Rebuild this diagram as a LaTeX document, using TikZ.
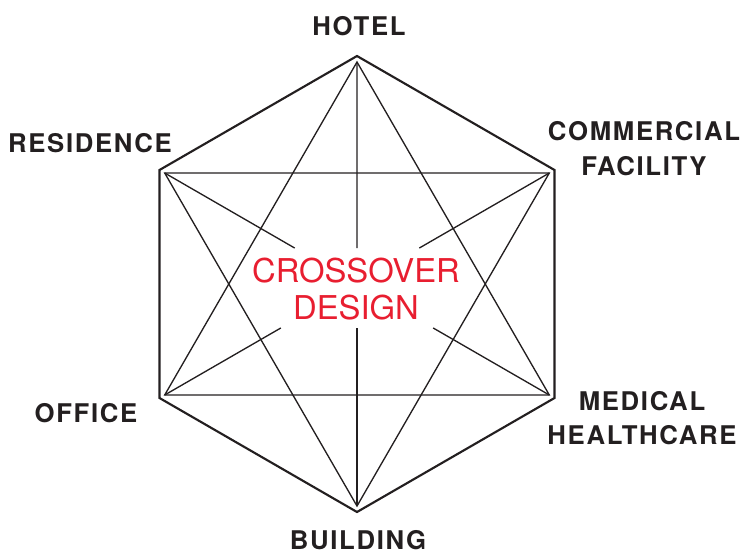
\documentclass[tikz,border=0pt]{standalone}
\usepackage{fontspec}
\setmainfont{TeX Gyre Heros}
\newfontfamily\lblfont[LetterSpace=6.5]{TeX Gyre Heros}
\usetikzlibrary{calc}
\definecolor{ink}{RGB}{35,31,32}
\definecolor{xred}{RGB}{232,30,48}
\begin{document}
\begin{tikzpicture}[x=0.75pt,y=-0.75pt,
  hexline/.style={draw=ink,line width=1.6pt,line join=miter},
  innerline/.style={draw=ink,line width=1pt},
  lbl/.style={text=ink,font=\lblfont\bfseries\fontsize{19.3}{26}\selectfont,align=center,inner sep=0pt},
  core/.style={text=xred,font=\fontsize{24.6}{27.75}\selectfont,align=center,inner sep=0pt}]
\useasboundingbox (0,0) rectangle (745,554);
% outer hexagon
\coordinate (oT) at (357,56);
\coordinate (oUR) at (554.5,170);
\coordinate (oLR) at (554.5,398);
\coordinate (oB) at (357,512);
\coordinate (oLL) at (159.5,398);
\coordinate (oUL) at (159.5,170);
% inner convergence points
\coordinate (C) at (357,284);
\coordinate (iT) at (357,62);
\coordinate (iUR) at (549.3,173);
\coordinate (iLR) at (549.3,395);
\coordinate (iB) at (357,506);
\coordinate (iLL) at (164.7,395);
\coordinate (iUL) at (164.7,173);
\draw[hexline] (oT) -- (oUR) -- (oLR) -- (oB) -- (oLL) -- (oUL) -- cycle;
% triangles
\draw[innerline] (iT) -- (iLR) -- (iLL) -- cycle;
\draw[innerline] (iB) -- (iUL) -- (iUR) -- cycle;
% interrupted diagonals
\draw[innerline] (iT) -- ($(iT)!0.838!(C)$);
\draw[innerline] (iB) -- ($(iB)!0.802!(C)$);
\draw[innerline] (iUL) -- ($(iUL)!0.676!(C)$);
\draw[innerline] (iUR) -- ($(iUR)!0.676!(C)$);
\draw[innerline] (iLL) -- ($(iLL)!0.604!(C)$);
\draw[innerline] (iLR) -- ($(iLR)!0.604!(C)$);
% labels
\node[lbl,anchor=base] (hotel) at (359,35.5) {HOTEL};
\node[lbl,anchor=base] (res) at (90,152) {RESIDENCE};
\node[lbl] (comm) at (644,148.5) {COMMERCIAL\\FACILITY};
\node[lbl] (med) at (642,418) {MEDICAL\\HEALTHCARE};
\node[lbl,anchor=base] (office) at (86,422) {OFFICE};
\node[lbl,anchor=base] (bldg) at (358,549) {BUILDING};
\node[core] (core) at (356,289.5) {CROSSOVER\\DESIGN};
\end{tikzpicture}
\end{document}
